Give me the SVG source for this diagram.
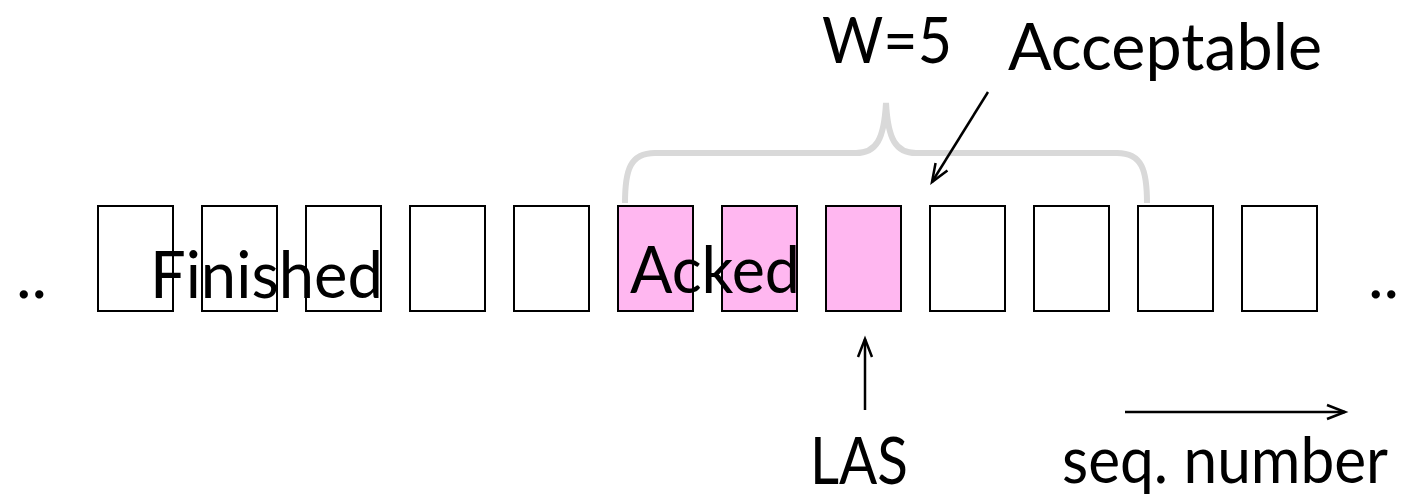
<svg xmlns="http://www.w3.org/2000/svg" width="1401" height="497" viewBox="0 0 1401 497">
<style>
.box{stroke:#000;stroke-width:2;fill:#fff}
.pink{fill:#ffb7f0}
.t{font-family:Lato,"Liberation Sans",sans-serif;font-size:66px;fill:#000}
.s{font-size:63px}
.arr{stroke:#000;stroke-width:2.5;fill:none;marker-end:url(#ah)}
.brace{stroke:#d9d9d9;stroke-width:6;fill:none}
</style>
<defs>
<marker id="ah" viewBox="0 0 20 20" refX="19" refY="10" markerWidth="20" markerHeight="20" markerUnits="userSpaceOnUse" orient="auto" overflow="visible">
<path d="M1,3 L19,10 L1,17" fill="none" stroke="#000" stroke-width="2.5"/>
</marker>
</defs>
<rect width="1401" height="497" fill="#fff"/>
<g id="boxes">
<rect id="b1" class="box" x="98" y="206" width="75" height="105"/>
<rect id="b2" class="box" x="202" y="206" width="75" height="105"/>
<rect id="b3" class="box" x="306" y="206" width="75" height="105"/>
<rect id="b4" class="box" x="410" y="206" width="75" height="105"/>
<rect id="b5" class="box" x="514" y="206" width="75" height="105"/>
<rect id="b6" class="box pink" x="618" y="206" width="75" height="105"/>
<rect id="b7" class="box pink" x="722" y="206" width="75" height="105"/>
<rect id="b8" class="box pink" x="826" y="206" width="75" height="105"/>
<rect id="b9" class="box" x="930" y="206" width="75" height="105"/>
<rect id="b10" class="box" x="1034" y="206" width="75" height="105"/>
<rect id="b11" class="box" x="1138" y="206" width="75" height="105"/>
<rect id="b12" class="box" x="1242" y="206" width="75" height="105"/>
</g>
<g id="brace">
<path class="brace" d="M625,203 C625,170 630,153 655,153 L856,153 C876,153 884,140 886,103 C888,140 896,153 916,153 L1117,153 C1142,153 1147,170 1147,203"/>
</g>
<g id="connectors">
<line class="arr" x1="988" y1="92" x2="932" y2="182"/>
<line class="arr" x1="865" y1="410" x2="865" y2="339"/>
<line class="arr" x1="1125" y1="412" x2="1345" y2="412"/>
</g>
<g id="labels">
<text class="t" x="16" y="298">..</text>
<text class="t" x="1368" y="298">..</text>
<text class="t" x="150" y="298" textLength="233" lengthAdjust="spacingAndGlyphs">Finished</text>
<text class="t" x="630" y="293" textLength="170" lengthAdjust="spacingAndGlyphs">Acked</text>
<text class="t s" x="822" y="63" textLength="130" lengthAdjust="spacingAndGlyphs">W=5</text>
<text class="t" x="1008" y="70" textLength="314" lengthAdjust="spacingAndGlyphs">Acceptable</text>
<text class="t" x="810" y="484" textLength="98" lengthAdjust="spacingAndGlyphs">LAS</text>
<text class="t s" x="1062" y="483" textLength="326" lengthAdjust="spacingAndGlyphs">seq. number</text>
</g>
</svg>
